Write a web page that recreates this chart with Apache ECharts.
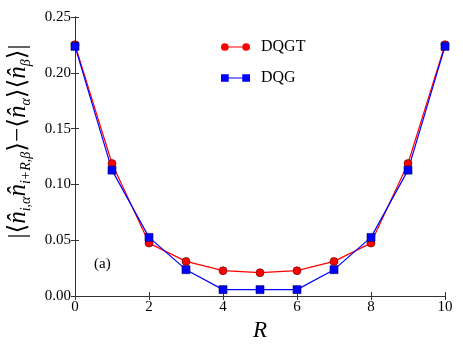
<!DOCTYPE html>
<html>
<head>
<meta charset="utf-8">
<script src="https://cdn.jsdelivr.net/npm/echarts@6/dist/echarts.min.js"></script>
<style>
html, body { margin: 0; padding: 0; background: #fff; }
#main { width: 463px; height: 348px; }
</style>
</head>
<body>
<div id="main"></div>
<script>
// R values and correlations
var rList = [0, 1, 2, 3, 4, 5, 6, 7, 8, 9, 10];
var dqgtList = [0.2252, 0.1187, 0.0474, 0.0310, 0.0227, 0.0209, 0.0227, 0.0310, 0.0474, 0.1187, 0.2252];
var dqgList = [0.2237, 0.1128, 0.0525, 0.0236, 0.0057, 0.0057, 0.0057, 0.0236, 0.0525, 0.1128, 0.2237];
var seriesNames = ['DQGT', 'DQG'];

function toPairs(xs, ys) {
	var out = [];
	for (var i = 0; i < xs.length; i++) {
		out.push([xs[i], ys[i]]);
	}
	return out;
}

var serif = '"Liberation Serif", "DejaVu Serif", serif';
var axisColor = '#333';

var chart = echarts.init(document.getElementById('main'));

// legend icons: line with a marker on each end (like matplotlib numpoints=2)
var iconCircle = 'path://M0,4 A4,4 0 1,1 8,4 A4,4 0 1,1 0,4 Z M8,3.6 L22,3.6 L22,4.4 L8,4.4 Z M22,4 A4,4 0 1,1 30,4 A4,4 0 1,1 22,4 Z';
var iconRect = 'path://M0,0 L8,0 L8,8 L0,8 Z M8,3.6 L22,3.6 L22,4.4 L8,4.4 Z M22,0 L30,0 L30,8 L22,8 Z';

var yName = '{b||⟨}{n|n̂}{s|i,α}{n|n̂}{s|i+R,β}{b|⟩−⟨}{n|n̂}{s|α}{b|⟩⟨}{n|n̂}{s|β}{b|⟩|}';

var option = {
	animation: false,
	grid: { left: 75, right: 18, top: 17, bottom: 52, outerBoundsMode: 'none', containLabel: false },
	legend: {
		left: 216,
		top: 34,
		orient: 'vertical',
		itemWidth: 29,
		itemHeight: 8,
		itemGap: 15,
		itemStyle: { borderWidth: 0 },
		data: [
			{ name: seriesNames[0], icon: iconCircle },
			{ name: seriesNames[1], icon: iconRect }
		],
		textStyle: {
			fontFamily: serif,
			fontSize: 16,
			color: '#000',
			padding: [0, 0, 0, 6]
		}
	},
	graphic: [{
		type: 'text',
		left: 94,
		top: 257,
		style: { text: '(a)', fontFamily: serif, fontSize: 15, fill: '#000' }
	}],
	xAxis: [{
		type: 'value',
		min: 0,
		max: 10,
		interval: 2,
		name: 'R',
		nameLocation: 'middle',
		nameGap: 20,
		nameTextStyle: { fontFamily: serif, fontStyle: 'italic', fontSize: 23, color: '#000' },
		axisLine: { lineStyle: { color: axisColor, width: 1 } },
		axisTick: { inside: true, length: 4, lineStyle: { color: axisColor } },
		axisLabel: { fontFamily: serif, fontSize: 15, color: '#000', margin: 4 },
		splitLine: { show: false }
	}, {
		type: 'value',
		position: 'top',
		min: 0,
		max: 10,
		interval: 2,
		axisLine: { show: true, lineStyle: { color: axisColor, width: 1 } },
		axisTick: { show: true, inside: true, length: 4, lineStyle: { color: axisColor } },
		axisLabel: { show: false },
		splitLine: { show: false }
	}],
	yAxis: [{
		type: 'value',
		min: 0,
		max: 0.25,
		interval: 0.05,
		name: yName,
		nameLocation: 'middle',
		nameRotate: 90,
		nameGap: 42,
		nameTextStyle: {
			color: '#000',
			padding: [0, 0, 0, 30],
			rich: {
				b: { fontFamily: serif, fontSize: 25, lineHeight: 30, color: '#000' },
				n: { fontFamily: serif, fontStyle: 'italic', fontSize: 25, lineHeight: 30, color: '#000' },
				s: { fontFamily: serif, fontStyle: 'italic', fontSize: 14, lineHeight: 13, verticalAlign: 'bottom', color: '#000' }
			}
		},
		axisLine: { show: true, lineStyle: { color: axisColor, width: 1 } },
		axisTick: { show: true, inside: true, length: 4, lineStyle: { color: axisColor } },
		axisLabel: {
			fontFamily: serif,
			fontSize: 15,
			color: '#000',
			margin: 4,
			formatter: function(v) { return v.toFixed(2); }
		},
		splitLine: { show: false }
	}, {
		type: 'value',
		position: 'right',
		min: 0,
		max: 0.25,
		interval: 0.05,
		axisLine: { show: true, lineStyle: { color: axisColor, width: 1 } },
		axisTick: { show: true, inside: true, length: 4, lineStyle: { color: axisColor } },
		axisLabel: { show: false },
		splitLine: { show: false }
	}],
	series: [{
		name: seriesNames[0],
		type: 'line',
		data: toPairs(rList, dqgtList),
		symbol: 'circle',
		symbolSize: 8,
		lineStyle: { color: '#ff0000', width: 1.2 },
		itemStyle: { color: '#ff0000', borderColor: '#550000', borderWidth: 0.6 }
	}, {
		name: seriesNames[1],
		type: 'line',
		data: toPairs(rList, dqgList),
		symbol: 'rect',
		symbolSize: 8,
		lineStyle: { color: '#0000ff', width: 1.2 },
		itemStyle: { color: '#0000ff', borderColor: '#000055', borderWidth: 0.6 }
	}]
};

chart.setOption(option);
</script>
</body>
</html>
